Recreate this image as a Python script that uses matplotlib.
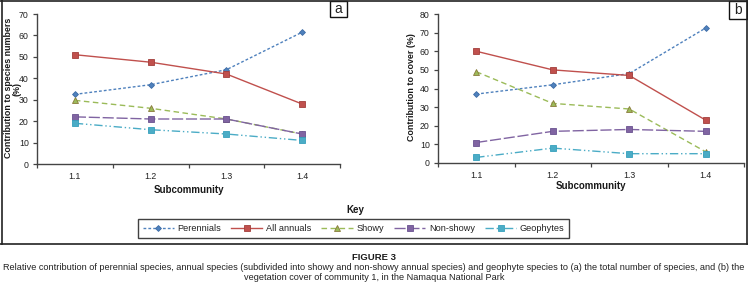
import numpy as np
import matplotlib
matplotlib.use("Agg")
import matplotlib.pyplot as plt
from matplotlib.lines import Line2D
from matplotlib.patches import Rectangle

plt.rcParams['font.family'] = ['Liberation Sans', 'DejaVu Sans']

subcommunities = ['1.1', '1.2', '1.3', '1.4']
series_names = ['Perennials', 'All annuals', 'Showy', 'Non-showy', 'Geophytes']

# panel a: contribution to species numbers (%)
a_perennials = [32.5, 37, 44, 61.5]
a_annuals = [51, 47.5, 42, 28]
a_showy = [29.7, 26, 21, 14]
a_nonshowy = [22, 21, 21, 14]
a_geophytes = [19, 16, 14, 11]

# panel b: contribution to cover (%)
b_perennials = [37, 42, 48, 72.5]
b_annuals = [60, 50, 47, 23]
b_showy = [49, 32, 29, 6]
b_nonshowy = [11, 17, 18, 17]
b_geophytes = [3, 8, 5, 5]

colors = ['#4F81BD', '#C0504D', '#9BBB59', '#8064A2', '#4BACC6']
edges = ['#3E6DA6', '#A33E3B', '#8A7A3A', '#6A5290', '#36A0BC']
markers = ['D', 's', '^', 's', 's']
msizes = [3.0, 4.2, 4.0, 4.0, 4.0]
styles = [(0, (2, 1.5)), '-', (0, (4, 2.5)), (0, (8, 2)), (0, (6, 2, 1, 2, 1, 2))]

W, H = 748, 285
fig = plt.figure(figsize=(W / 100, H / 100), dpi=100)


def px(x0, y0, x1, y1):
    return [x0 / W, 1 - y1 / H, (x1 - x0) / W, (y1 - y0) / H]


def panel(rect, data, ymax, ylabel, ylab_x, xlab_y):
    ax = fig.add_axes(rect)
    x = np.arange(1, len(subcommunities) + 1)
    for vals, c, e, m, ms, ls in zip(data, colors, edges, markers, msizes, styles):
        ax.plot(x, vals, color=c, lw=1.0, ls=ls, marker=m, markersize=ms,
                markerfacecolor=c, markeredgecolor=e, markeredgewidth=0.6)
    ax.set_xlim(0.5, 4.5)
    ax.set_ylim(0, ymax)
    ax.set_yticks(np.arange(0, ymax + 1, 10))
    ax.set_xticks(x)
    ax.set_xticklabels(subcommunities)
    ax.set_xticks(np.arange(0.5, 4.6, 1), minor=True)
    ax.tick_params(axis='x', which='major', length=0, pad=6, labelsize=6.3, colors='#222222')
    ax.tick_params(axis='x', which='minor', length=3, width=0.9, color='#444444', direction='out')
    ax.tick_params(axis='y', length=3, width=0.9, pad=3, labelsize=6.3, colors='#222222', color='#444444')
    for s in ['top', 'right']:
        ax.spines[s].set_visible(False)
    for s in ['left', 'bottom']:
        ax.spines[s].set_color('#444444')
        ax.spines[s].set_linewidth(1.0)
    ax.set_xlabel('Subcommunity', fontsize=7, fontweight='bold', color='#1a1a1a')
    ax.xaxis.set_label_coords(0.5, xlab_y)
    ax.set_ylabel(ylabel, fontsize=6.4, fontweight='bold', color='#1a1a1a')
    ax.yaxis.set_label_coords(ylab_x, 0.51)
    ax.patch.set_alpha(0)
    return ax


ax_a = panel(px(37, 14, 340, 164),
             [a_perennials, a_annuals, a_showy, a_nonshowy, a_geophytes],
             70, 'Contribution to species numbers', -0.079, -0.14)
# second line of the panel a axis title
ax_a.text(-0.066, 0.5, '(%)', transform=ax_a.transAxes, rotation=90,
          ha='center', va='center', fontsize=6.4, fontweight='bold', color='#1a1a1a')
ax_b = panel(px(438, 14, 744, 163),
             [b_perennials, b_annuals, b_showy, b_nonshowy, b_geophytes],
             80, 'Contribution to cover (%)', -0.072, -0.12)

# outer frame
frame_kw = dict(color='#222222', lw=1.2, transform=fig.transFigure)
fig.add_artist(Line2D([1.5 / W, 1.5 / W], [1, 1 - 244 / H], **frame_kw))
fig.add_artist(Line2D([746.5 / W, 746.5 / W], [1, 1 - 244 / H], **frame_kw))
fig.add_artist(Line2D([0, 1], [1 - 0.8 / H, 1 - 0.8 / H], **frame_kw))
fig.add_artist(Line2D([0, 1], [1 - 244 / H, 1 - 244 / H], **frame_kw))

# panel letters
for (x0, y0, x1, y1), lab in [((330, 1, 347, 17), 'a'), ((729, 1, 747, 19), 'b')]:
    r = px(x0, y0, x1, y1)
    fig.add_artist(Rectangle((r[0], r[1]), r[2], r[3], transform=fig.transFigure,
                             facecolor='white', edgecolor='#111111', lw=1.0))
    fig.text(r[0] + r[2] / 2, r[1] + r[3] / 2, lab, ha='center', va='center',
             fontsize=10, color='#222222')

# legend
fig.text(355 / W, 1 - 210 / H, 'Key', ha='center', va='center', fontsize=7,
         fontweight='bold', color='#1a1a1a')
handles = [Line2D([], [], color=c, lw=1.0, ls=ls, marker=m, markersize=ms,
                  markerfacecolor=c, markeredgecolor=e, markeredgewidth=0.6)
           for c, e, m, ms, ls in zip(colors, edges, markers, msizes, styles)]
leg = fig.legend(handles, series_names, loc='center', ncol=5, mode='expand',
                 bbox_to_anchor=px(138, 215, 569, 242), fontsize=6.6,
                 handlelength=3.4, handletextpad=0.4, frameon=True, fancybox=False,
                 borderaxespad=0, borderpad=0.5)
leg.get_frame().set_edgecolor('#111111')
leg.get_frame().set_linewidth(1.0)
for t in leg.get_texts():
    t.set_color('#222222')

# caption
fig.text(374 / W, 1 - 257 / H, 'FIGURE 3', ha='center', va='center', fontsize=6.8,
         fontweight='bold', color='#1a1a1a')
fig.text(374 / W, 1 - 268 / H,
         'Relative contribution of perennial species, annual species (subdivided into showy and non-showy '
         'annual species) and geophyte species to (a) the total number of species, and (b) the',
         ha='center', va='center', fontsize=6.55, color='#222222')
fig.text(374 / W, 1 - 278 / H, 'vegetation cover of community 1, in the Namaqua National Park',
         ha='center', va='center', fontsize=6.55, color='#222222')

fig.savefig('out.png', dpi=100)
